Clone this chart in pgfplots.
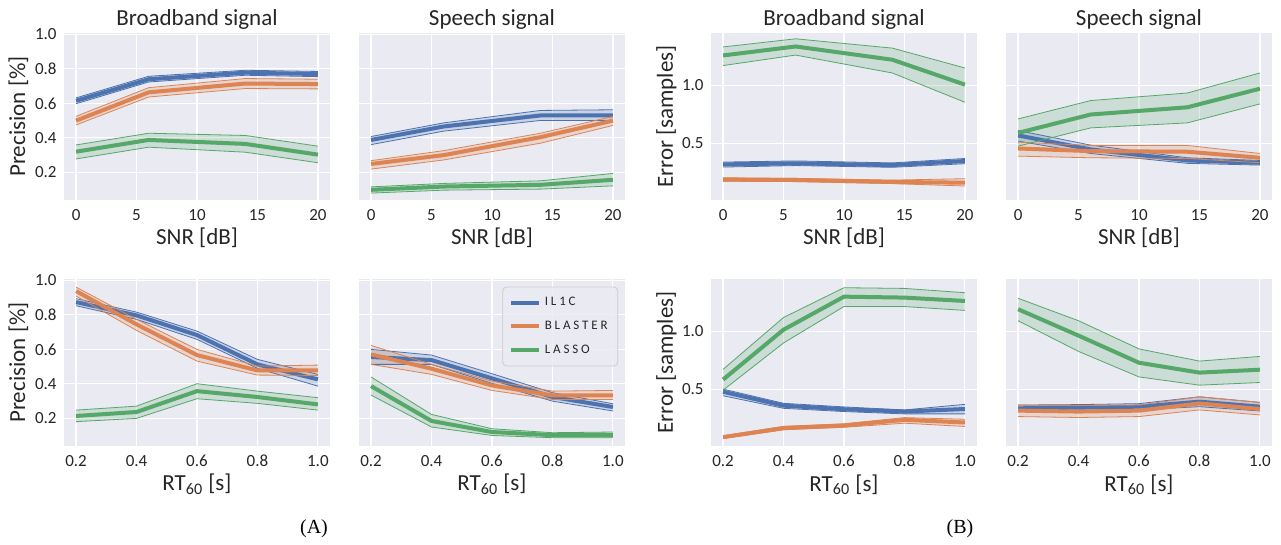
\documentclass[border=0pt]{standalone}
\usepackage{pgfplots}
\pgfplotsset{compat=1.18}
\usepackage{pgfplotstable}
\usepgfplotslibrary{fillbetween}
\usepackage{fontspec}
\setmainfont{Carlito}
\newfontfamily\serifA{Liberation Serif}
\definecolor{sbbg}{HTML}{EAEAF2}
\definecolor{sbtext}{HTML}{262626}
\definecolor{sbedge}{HTML}{CCCCCC}
\definecolor{sbblue}{HTML}{4C72B0}
\definecolor{sborange}{HTML}{DD8452}
\definecolor{sbgreen}{HTML}{55A868}

% columns: x, b (IL1C) bl bh, o (BLASTER) ol oh, g (LASSO) gl gh
\pgfplotstableread{
x  b     bl    bh    o     ol    oh    g     gl    gh
0  0.615 0.598 0.632 0.500 0.475 0.525 0.320 0.278 0.359
6  0.740 0.724 0.757 0.664 0.637 0.691 0.388 0.346 0.427
14 0.778 0.763 0.792 0.715 0.686 0.744 0.365 0.317 0.414
20 0.770 0.755 0.785 0.712 0.684 0.740 0.303 0.256 0.352
}\tabAa
\pgfplotstableread{
x  b     bl    bh    o     ol    oh    g     gl    gh
0  0.388 0.361 0.408 0.249 0.219 0.268 0.099 0.080 0.116
6  0.466 0.439 0.487 0.300 0.272 0.326 0.118 0.097 0.136
14 0.530 0.501 0.559 0.404 0.369 0.427 0.128 0.103 0.151
20 0.530 0.501 0.563 0.500 0.472 0.524 0.157 0.122 0.194
}\tabAb
\pgfplotstableread{
x   b     bl    bh    o     ol    oh    g     gl    gh
0.2 0.874 0.853 0.894 0.938 0.909 0.961 0.214 0.181 0.248
0.4 0.797 0.774 0.816 0.745 0.710 0.774 0.237 0.200 0.271
0.6 0.683 0.658 0.706 0.567 0.532 0.600 0.358 0.314 0.401
0.8 0.513 0.490 0.542 0.478 0.451 0.503 0.324 0.287 0.358
1.0 0.426 0.387 0.455 0.478 0.449 0.509 0.281 0.248 0.320
}\tabAc
\pgfplotstableread{
x   b     bl    bh    o     ol    oh    g     gl    gh
0.2 0.556 0.513 0.600 0.571 0.513 0.623 0.387 0.335 0.440
0.4 0.538 0.513 0.567 0.488 0.455 0.513 0.185 0.150 0.223
0.6 0.432 0.403 0.459 0.391 0.362 0.416 0.121 0.101 0.140
0.8 0.324 0.300 0.349 0.333 0.310 0.358 0.103 0.088 0.117
1.0 0.266 0.243 0.285 0.333 0.310 0.362 0.103 0.088 0.121
}\tabAd
\pgfplotstableread{
x  b     bl    bh    o     ol    oh    g     gl    gh
0  0.320 0.297 0.340 0.189 0.175 0.205 1.257 1.170 1.330
6  0.329 0.310 0.350 0.186 0.172 0.200 1.334 1.260 1.400
14 0.314 0.295 0.333 0.169 0.155 0.185 1.220 1.106 1.320
20 0.349 0.326 0.371 0.163 0.134 0.197 1.006 0.854 1.149
}\tabBa
\pgfplotstableread{
x  b     bl    bh    o     ol    oh    g     gl    gh
0  0.569 0.520 0.611 0.457 0.391 0.511 0.591 0.477 0.711
6  0.449 0.414 0.486 0.434 0.377 0.483 0.749 0.634 0.869
14 0.354 0.329 0.377 0.429 0.371 0.483 0.811 0.677 0.934
20 0.334 0.314 0.354 0.377 0.334 0.414 0.971 0.840 1.106
}\tabBb
\pgfplotstableread{
x   b     bl    bh    o     ol    oh    g     gl    gh
0.2 0.480 0.446 0.503 0.090 0.078 0.102 0.585 0.494 0.673
0.4 0.361 0.338 0.381 0.168 0.153 0.183 1.014 0.900 1.119
0.6 0.330 0.310 0.350 0.190 0.175 0.205 1.298 1.213 1.375
0.8 0.310 0.290 0.324 0.239 0.210 0.258 1.290 1.213 1.369
1.0 0.332 0.290 0.372 0.216 0.182 0.244 1.261 1.180 1.332
}\tabBc
\pgfplotstableread{
x   b     bl    bh    o     ol    oh    g     gl    gh
0.2 0.338 0.310 0.366 0.318 0.267 0.366 1.190 1.091 1.284
0.4 0.344 0.318 0.370 0.310 0.259 0.361 0.963 0.827 1.091
0.6 0.352 0.326 0.378 0.318 0.267 0.366 0.730 0.608 0.849
0.8 0.395 0.352 0.437 0.380 0.324 0.437 0.645 0.537 0.744
1.0 0.352 0.315 0.389 0.332 0.281 0.389 0.670 0.560 0.784
}\tabBd

\newcommand{\band}[3]{%
  \addplot[forget plot, draw=#3, line width=0.4pt, name path=#2U] table[x=x, y=#2h] {#1};
  \addplot[forget plot, draw=#3, line width=0.4pt, name path=#2L] table[x=x, y=#2l] {#1};
  \addplot[forget plot, fill=#3, fill opacity=0.2, draw=none] fill between[of=#2U and #2L];
  \addplot[#3, line width=2pt] table[x=x, y=#2] {#1};
}
\newcommand{\allbands}[1]{\band{#1}{b}{sbblue}\band{#1}{o}{sborange}\band{#1}{g}{sbgreen}}

\pgfplotsset{
  sb/.style={
    scale only axis, width=133pt, height=83.5pt,
    axis background/.style={fill=sbbg},
    xmajorgrids, ymajorgrids,
    major grid style={white, line width=0.6pt},
    axis line style={draw=none},
    tick style={draw=none},
    /pgf/number format/assume math mode=true,
    tick label style={font=\fontsize{8.5}{9.5}\selectfont, text=sbtext},
    yticklabel style={anchor=east, inner sep=0pt, xshift=-3.5pt},
    xticklabel style={anchor=base, inner sep=0pt, yshift=-10.5pt},
    label style={font=\fontsize{11.5}{13}\selectfont, text=sbtext},
    xlabel style={at={(axis description cs:0.5,-0.2695)}, anchor=base},
    ylabel style={at={(axis description cs:-0.1466,0.5)}, anchor=base},
    title style={font=\fontsize{11.5}{13}\selectfont, text=sbtext, at={(axis description cs:0.5,1.0455)}, anchor=base, yshift=-6pt},
  },
  snr/.style={xmin=-1, xmax=21, xtick={0,5,10,15,20}, xlabel={SNR [dB]}},
  rt/.style={xmin=0.16, xmax=1.04, xtick={0.2,0.4,0.6,0.8,1.0},
    xticklabel style={/pgf/number format/.cd, fixed, fixed zerofill, precision=1},
    xlabel={RT\textsubscript{60} [s]}},
  prec/.style={ymin=0.04, ymax=1.008, ytick={0.2,0.4,0.6,0.8,1.0},
    yticklabel style={/pgf/number format/.cd, fixed, fixed zerofill, precision=1}},
  err/.style={ymin=0.014, ymax=1.45, ytick={0.5,1.0},
    yticklabel style={/pgf/number format/.cd, fixed, fixed zerofill, precision=1}},
}

\begin{document}
\begin{tikzpicture}

% ---- (A) ----
\begin{axis}[sb, snr, prec, at={(32pt,172.5pt)}, anchor=south west,
  title={Broadband signal}, ylabel={Precision [\%]}]
\allbands{\tabAa}
\end{axis}
\begin{axis}[sb, snr, prec, at={(179.5pt,172.5pt)}, anchor=south west,
  title={Speech signal}, yticklabels={}]
\allbands{\tabAb}
\end{axis}
\begin{axis}[sb, rt, prec, at={(32pt,49.5pt)}, anchor=south west,
  ylabel={Precision [\%]}]
\allbands{\tabAc}
\end{axis}
\begin{axis}[sb, rt, prec, at={(179.5pt,49.5pt)}, anchor=south west,
  yticklabels={},
  legend cell align=left,
  legend image code/.code={\draw[line width=2pt] (0pt,0pt) -- (14pt,0pt);},
  legend style={at={(axis description cs:0.974,0.955)}, anchor=north east,
    fill=sbbg, fill opacity=0.8, text opacity=1, draw=sbedge, rounded corners=2pt,
    font=\fontsize{6.5}{7.5}\selectfont\addfontfeature{LetterSpace=22},
    text=sbtext, row sep=2.2pt, inner xsep=3pt, inner ysep=3pt}]
\allbands{\tabAd}
\legend{IL1C,BLASTER,LASSO}
\end{axis}

% ---- (B) ----
\begin{axis}[sb, snr, err, at={(355.5pt,172.5pt)}, anchor=south west,
  title={Broadband signal}, ylabel={Error [samples]},
  ylabel style={at={(axis description cs:-0.1429,0.5)}}]
\allbands{\tabBa}
\end{axis}
\begin{axis}[sb, snr, err, at={(503pt,172.5pt)}, anchor=south west,
  title={Speech signal}, yticklabels={}]
\allbands{\tabBb}
\end{axis}
\begin{axis}[sb, rt, err, at={(355.5pt,49.5pt)}, anchor=south west,
  ylabel={Error [samples]},
  ylabel style={at={(axis description cs:-0.1429,0.5)}}]
\allbands{\tabBc}
\end{axis}
\begin{axis}[sb, rt, err, at={(503pt,49.5pt)}, anchor=south west,
  yticklabels={}]
\allbands{\tabBd}
\end{axis}

\node[anchor=base, font=\serifA\fontsize{10}{12}\selectfont, inner sep=0pt] at (157pt,5.5pt) {(A)};
\node[anchor=base, font=\serifA\fontsize{10}{12}\selectfont, inner sep=0pt] at (480pt,5.5pt) {(B)};
\path (0,0) rectangle (640.5pt,272.5pt);
\end{tikzpicture}
\end{document}
